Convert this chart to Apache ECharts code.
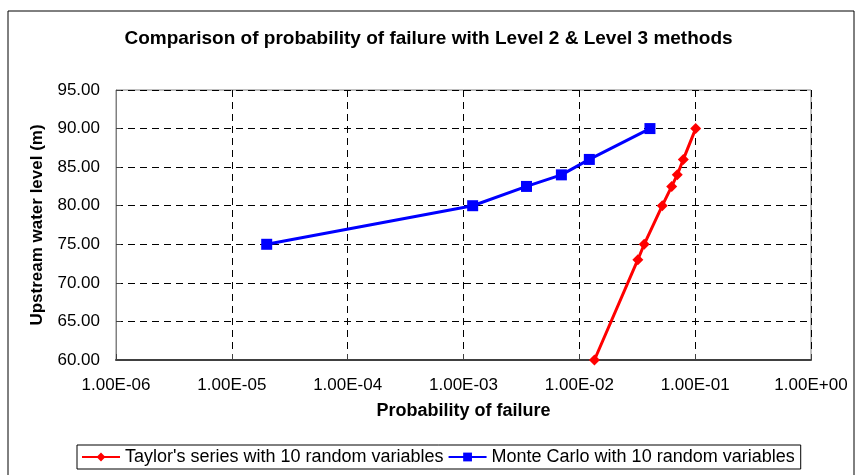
<!DOCTYPE html>
<html>
<head>
<meta charset="utf-8">
<script src="https://cdn.jsdelivr.net/npm/echarts@6/dist/echarts.min.js"></script>
<style>
  html, body { margin: 0; padding: 0; background: #fff; }
  #chart { width: 857px; height: 475px; }
</style>
</head>
<body>
<div id="chart"></div>
<script>
// Taylor's series (level 2)
var taylorProb = [0.0135, 0.032, 0.0363, 0.052, 0.0627, 0.070, 0.079, 0.101];
var taylorLevel = [60, 73, 75, 80, 82.5, 84, 86, 90];
// Monte Carlo (level 3)
var monteProb = [2.0e-5, 1.2e-3, 3.5e-3, 7.0e-3, 1.22e-2, 4.07e-2];
var monteLevel = [75, 80, 82.5, 84, 86, 90];

var seriesNames = ["Taylor's series with 10 random variables", 'Monte Carlo with 10 random variables'];

function pairs (xs, ys) {
  return xs.map(function (x, i) { return [x, ys[i]] })
}

function sciLabel (v) {
  var e = Math.round(Math.log10(v))
  var sign = e < 0 ? '-' : '+'
  var a = Math.abs(e)
  return '1.00E' + sign + (a < 10 ? '0' + a : a)
}

var font = 'Liberation Sans, Arial, sans-serif'
var chart = echarts.init(document.getElementById('chart'))
var option = {
  backgroundColor: '#ffffff',
  animation: false,
  title: {
    text: 'Comparison of probability of failure with Level 2 & Level 3 methods',
    left: 'center',
    top: 24,
    textStyle: { fontFamily: font, fontSize: 19, fontWeight: 'bold', color: '#000' }
  },
  graphic: [{
    type: 'rect',
    shape: { x: 8, y: 11, width: 846, height: 480 },
    style: { fill: 'none', stroke: '#000', lineWidth: 1 },
    silent: true
  }],
  grid: {
    left: 116, right: 46, top: 90, bottom: 115,
    show: true, borderColor: '#808080', borderWidth: 1
  },
  legend: {
    data: seriesNames,
    left: 77,
    top: 445,
    itemWidth: 38,
    itemHeight: 11,
    itemGap: 4,
    padding: [3, 6, 3, 4],
    borderColor: '#000',
    borderWidth: 1,
    textStyle: { fontFamily: font, fontSize: 18, color: '#000' }
  },
  xAxis: {
    type: 'log',
    logBase: 10,
    min: 1e-6,
    max: 1,
    name: 'Probability of failure',
    nameLocation: 'middle',
    nameGap: 42,
    nameTextStyle: { fontFamily: font, fontSize: 18, fontWeight: 'bold', color: '#000' },
    axisLine: { lineStyle: { color: '#404040', width: 2 } },
    axisTick: { inside: true, length: 6, lineStyle: { color: '#404040' } },
    minorTick: { show: false },
    axisLabel: { fontFamily: font, fontSize: 17, color: '#000', margin: 17, formatter: sciLabel },
    splitLine: { show: true, lineStyle: { color: '#000', type: [7, 5], width: 1 } }
  },
  yAxis: {
    type: 'value',
    min: 60,
    max: 95,
    interval: 5,
    name: 'Upstream water level (m)',
    nameLocation: 'middle',
    nameGap: 70,
    nameTextStyle: { fontFamily: font, fontSize: 17, fontWeight: 'bold', color: '#000' },
    axisLine: { show: true, lineStyle: { color: '#808080', width: 1 } },
    axisTick: { show: true, inside: true, length: 5, lineStyle: { color: '#404040' } },
    axisLabel: { fontFamily: font, fontSize: 17, color: '#000', margin: 16,
      formatter: function (v) { return v.toFixed(2) } },
    splitLine: { show: true, lineStyle: { color: '#000', type: [7, 5], width: 1 } }
  },
  series: [{
    name: seriesNames[0],
    type: 'line',
    data: pairs(taylorProb, taylorLevel),
    symbol: 'diamond',
    symbolSize: 11,
    color: '#ff0000',
    lineStyle: { width: 3, color: '#ff0000' },
    itemStyle: { color: '#ff0000' },
    z: 3
  }, {
    name: seriesNames[1],
    type: 'line',
    data: pairs(monteProb, monteLevel),
    symbol: 'rect',
    symbolSize: 11,
    color: '#0000ff',
    lineStyle: { width: 3, color: '#0000ff' },
    itemStyle: { color: '#0000ff' },
    z: 3
  }]
}
chart.setOption(option)
</script>
</body>
</html>
